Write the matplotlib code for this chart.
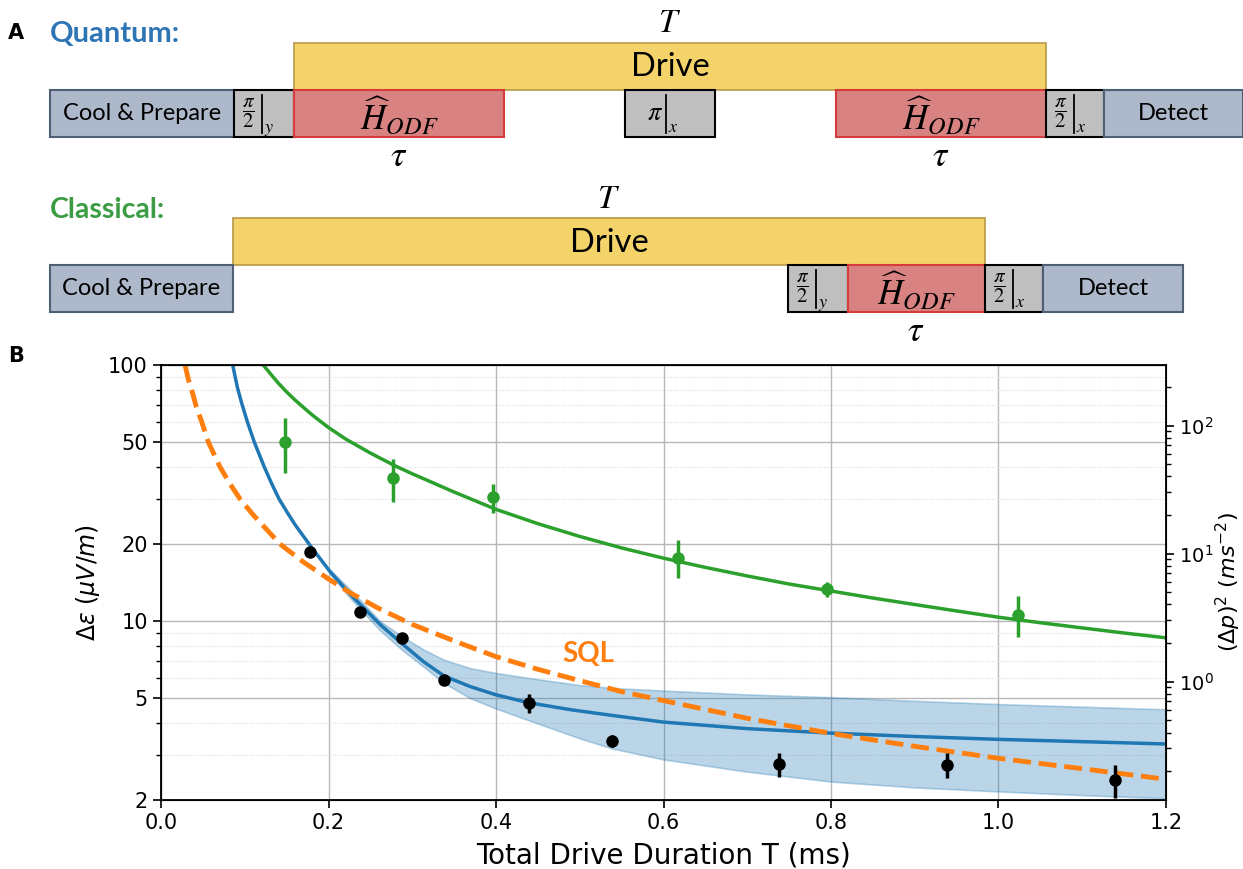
import numpy as np
import matplotlib.pyplot as plt
from matplotlib.patches import Rectangle
from matplotlib.ticker import FixedLocator, NullFormatter

# ---- panel B data ----
T_quantum = [0.178, 0.238, 0.288, 0.338, 0.439, 0.539, 0.738, 0.938, 1.139]
eps_quantum = [18.55, 10.8, 8.55, 5.86, 4.77, 3.40, 2.76, 2.74, 2.39]
err_quantum = [0.6, 0.35, 0.25, 0.2, 0.4, 0.18, 0.3, 0.3, 0.35]

T_classical = [0.148, 0.277, 0.397, 0.617, 0.795, 1.023]
eps_classical = [50.0, 36.1, 30.4, 17.7, 13.3, 10.6]
err_classical = [12.0, 7.0, 4.0, 3.0, 0.9, 1.95]

# quantum fit (blue)
T_fit = [0.0856, 0.0911, 0.0963, 0.1031, 0.1114, 0.1233, 0.132, 0.1409, 0.15,
         0.16, 0.1787, 0.2018, 0.2257, 0.2615, 0.288, 0.3132, 0.338, 0.369,
         0.4, 0.4386, 0.49, 0.5385, 0.6, 0.7, 0.8, 0.9, 1.0, 1.1, 1.2]
eps_fit = [100, 82, 71, 60, 50, 40, 34.5, 30, 26.8,
           23.8, 19.6, 15.6, 12.75, 9.7, 8.15, 6.95, 6.1, 5.55,
           5.15, 4.8, 4.5, 4.28, 4.03, 3.8, 3.65, 3.54, 3.45, 3.38, 3.31]

# confidence band of the quantum fit
T_band = [0.2018, 0.2257, 0.2615, 0.288, 0.3132, 0.338, 0.369, 0.4, 0.4386,
          0.5, 0.5385, 0.6, 0.7, 0.8, 0.9, 1.0, 1.1, 1.2]
band_hi = [15.9, 13.3, 10.0, 8.7, 7.75, 7.06, 6.55, 6.27, 6.0,
           5.62, 5.48, 5.35, 5.17, 5.04, 4.88, 4.74, 4.63, 4.52]
band_lo = [15.3, 12.3, 9.2, 7.7, 6.64, 5.72, 5.0, 4.55, 4.1,
           3.48, 3.18, 2.88, 2.58, 2.36, 2.24, 2.16, 2.09, 2.03]

# classical fit (green)
T_cfit = [0.122, 0.13, 0.14, 0.15, 0.16, 0.18, 0.20, 0.22, 0.25, 0.28, 0.30,
          0.35, 0.40, 0.45, 0.50, 0.55, 0.60, 0.65, 0.70, 0.75, 0.80, 0.85,
          0.90, 0.95, 1.00, 1.05, 1.10, 1.15, 1.20]
eps_cfit = [100, 93, 85, 78.5, 73, 64, 57, 51.5, 45.3, 40.3, 37.6,
            31.9, 27.3, 24.0, 21.4, 19.3, 17.6, 16.2, 15.0, 13.95, 13.1, 12.3,
            11.6, 10.95, 10.35, 9.85, 9.4, 8.98, 8.6]

# standard quantum limit (orange dashed)
T_sql = [0.0287, 0.033, 0.0366, 0.042, 0.0486, 0.0565, 0.0704, 0.082, 0.0943,
         0.11, 0.125, 0.142, 0.17, 0.2, 0.2257, 0.26, 0.3, 0.3522, 0.4, 0.45,
         0.5, 0.55, 0.6, 0.7, 0.8, 0.9, 1.0, 1.1, 1.2]
eps_sql = [100, 87, 80, 69, 60, 50, 40, 34.5, 30,
           26, 23, 20, 17, 14.6, 12.9, 11.2, 9.7, 8.31, 7.26, 6.48,
           5.85, 5.3, 4.89, 4.17, 3.64, 3.24, 2.91, 2.65, 2.41]

y_ticks = [2, 5, 10, 20, 50, 100]
acc_scale = 0.0297  # (dp)^2 = acc_scale * eps^2

# ---- panel A schematic (pixel layout) ----
hodf = r'$\widehat{H}_{ODF}$'

q_drive = (294, 1046, 43, 90)
q_row = (90, 137)
q_blocks = [("Cool & Prepare", 50, 234, "prep"), (("frac", "y"), 234, 294, "pulse"),
            (hodf, 294, 504, "odf"), (("pi", "x"), 625, 715, "pulse"),
            (hodf, 836, 1046, "odf"), (("frac", "x"), 1046, 1104, "pulse"),
            ("Detect", 1104, 1243, "prep")]
q_tau = [399, 941]

c_drive = (233, 985, 218, 265)
c_row = (265, 312)
c_blocks = [("Cool & Prepare", 50, 233, "prep"), (("frac", "y"), 788, 848, "pulse"),
            (hodf, 848, 985, "odf"), (("frac", "x"), 985, 1043, "pulse"),
            ("Detect", 1043, 1183, "prep")]
c_tau = [916]

styles = {
    "prep": dict(fc="#adb9ca", ec="#4f5f75"),
    "pulse": dict(fc="#bfbfbf", ec="black"),
    "odf": dict(fc="#d98282", ec="#d63c3c"),
    "drive": dict(fc="#f5d36b", ec="#b89a45"),
}

fig = plt.figure(figsize=(12.43, 8.69), dpi=100)

top = fig.add_axes([0, 0, 1, 1])
top.set_xlim(0, 1243)
top.set_ylim(869, 0)
top.axis("off")


def draw_pulse(label, a, row):
    body, sub = label
    cy = (row[0] + row[1]) / 2
    if body == "frac":
        bx, lx, txt, fs = a + 15, a + 28, r"$\dfrac{\pi}{2}$", 15
    else:
        bx, lx, txt, fs = a + 30, a + 41, r"$\pi$", 19
    top.text(bx, cy, txt, math_fontfamily="stix", fontsize=fs,
             ha="center", va="center")
    top.plot([lx, lx], [row[0] + 5, row[1] - 4], color="black", lw=1.3)
    top.text(lx + 2, row[1] - 5, "$" + sub + "$", math_fontfamily="stix",
             fontsize=13, ha="left", va="baseline")


def draw_row(drive, row, blocks, taus):
    x0, x1, y0, y1 = drive
    top.add_patch(Rectangle((x0, y0), x1 - x0, y1 - y0, lw=1.2, **styles["drive"]))
    top.text((x0 + x1) / 2, (y0 + y1) / 2 + 1, "Drive", family="Lato",
             fontsize=23.5, ha="center", va="center")
    top.text((x0 + x1) / 2, y0 - 20, "$T$", math_fontfamily="stix",
             fontsize=24, ha="center", va="center")
    for label, a, b, kind in blocks:
        top.add_patch(Rectangle((a, row[0]), b - a, row[1] - row[0], lw=1.5,
                                **styles[kind]))
        cy = (row[0] + row[1]) / 2
        if kind == "prep":
            top.text((a + b) / 2, cy, label, family="Lato", fontsize=17,
                     ha="center", va="center")
        elif kind == "pulse":
            draw_pulse(label, a, row)
        else:
            top.text((a + b) / 2, cy + 2, label, math_fontfamily="stix",
                     fontsize=25, ha="center", va="center")
    for tx in taus:
        top.text(tx, row[1] + 19, r"$\tau$", math_fontfamily="stix",
                 fontsize=26, ha="center", va="center")


draw_row(q_drive, q_row, q_blocks, q_tau)
draw_row(c_drive, c_row, c_blocks, c_tau)

top.text(16, 33, "A", family="DejaVu Sans", weight="bold", fontsize=15,
         ha="center", va="center")
top.text(16, 356, "B", family="DejaVu Sans", weight="bold", fontsize=15,
         ha="center", va="center")
top.text(50, 34, "Quantum:", family="Lato", weight="bold", fontsize=21,
         color="#2e75b6", ha="left", va="center")
top.text(50, 210, "Classical:", family="Lato", weight="bold", fontsize=20.5,
         color="#3b9c44", ha="left", va="center")

# ---- panel B ----
ax = fig.add_axes([161 / 1243, 69 / 869, 1005 / 1243, 435 / 869])
ax.set_yscale("log")

ax.fill_between(T_band, band_lo, band_hi, color="#1f77b4", alpha=0.3, lw=1.2,
                edgecolor="#1f77b4")
ax.plot(T_fit, eps_fit, color="#1f77b4", lw=2.5)
ax.plot(T_sql, eps_sql, color="#ff7f0e", lw=3.5, ls="--")
ax.plot(T_cfit, eps_cfit, color="#2ca02c", lw=2.5)

ax.errorbar(T_classical, eps_classical, yerr=err_classical, fmt="o",
            color="#2ca02c", ms=8, elinewidth=2.5, capsize=0, zorder=5)
ax.errorbar(T_quantum, eps_quantum, yerr=err_quantum, fmt="o",
            color="black", ms=8, elinewidth=2.5, capsize=0, zorder=6)

ax.text(0.51, 7.45, "SQL", family="Lato", weight="bold", fontsize=20,
        color="#ff7f0e", ha="center", va="center")

ax.set_xlim(0, 1.2)
ax.set_ylim(2, 100)
ax.set_xticks(np.arange(0, 1.21, 0.2))
ax.set_yticks(y_ticks)
ax.set_yticklabels([str(v) for v in y_ticks])
ax.yaxis.set_minor_locator(FixedLocator([3, 4, 6, 7, 8, 9, 30, 40, 60, 70, 80, 90]))
ax.yaxis.set_minor_formatter(NullFormatter())
ax.grid(which="major", color="#b8b8b8", lw=1)
ax.grid(which="minor", axis="y", color="#d8d8d8", ls=":", lw=0.8)
ax.set_axisbelow(True)
ax.tick_params(which="major", labelsize=15, length=6, width=1.2)
ax.tick_params(which="minor", length=3.5, width=1)
for s in ax.spines.values():
    s.set_linewidth(1.3)

ax.set_xlabel("Total Drive Duration T (ms)", fontsize=20, labelpad=6)
ax.set_ylabel(r"$\Delta\varepsilon\ (\mu V/m)$", fontsize=17, labelpad=4)

ax2 = ax.twinx()
ax2.set_yscale("log")
ax2.set_ylim(acc_scale * 2 ** 2, acc_scale * 100 ** 2)
ax2.tick_params(which="major", labelsize=14, length=6, width=1.2)
ax2.tick_params(which="minor", length=3.5, width=1)
ax2.set_ylabel(r"$(\Delta p)^2\ (ms^{-2})$", fontsize=16, labelpad=0)

fig.savefig("out.png", dpi=100)
